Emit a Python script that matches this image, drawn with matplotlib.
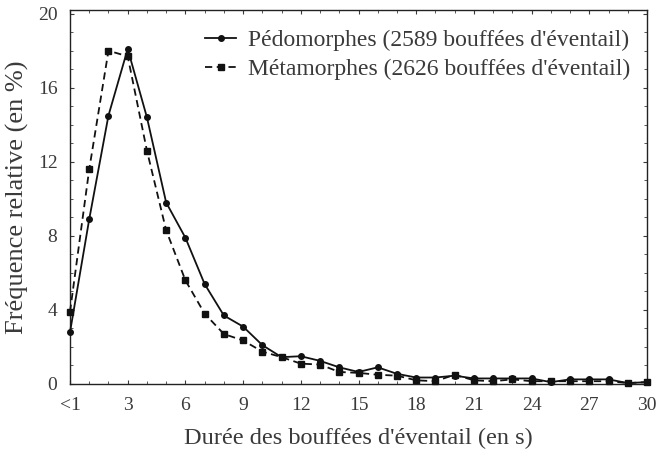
import numpy as np
import matplotlib
matplotlib.use("Agg")
import matplotlib.pyplot as plt
from matplotlib.ticker import MultipleLocator

plt.rcParams['font.family'] = ['Liberation Serif', 'DejaVu Serif']

# durée (s), 0 = "<1"
duree = list(range(31))
pedomorphes = [2.8, 8.9, 14.5, 18.1, 14.4, 9.8, 7.9, 5.4, 3.7, 3.1, 2.1, 1.45, 1.5, 1.25,
               0.9, 0.65, 0.9, 0.55, 0.35, 0.35, 0.45, 0.3, 0.3, 0.3, 0.3, 0.1, 0.25, 0.25,
               0.25, 0.05, 0.1]
metamorphes = [3.9, 11.6, 18.0, 17.7, 12.6, 8.3, 5.6, 3.8, 2.7, 2.35, 1.75, 1.45, 1.1, 1.05,
               0.65, 0.6, 0.5, 0.45, 0.2, 0.15, 0.5, 0.2, 0.15, 0.25, 0.15, 0.15, 0.15, 0.15,
               0.15, 0.05, 0.1]
xticks = [0, 3, 6, 9, 12, 15, 18, 21, 24, 27, 30]
xticklabels = ['<1', '3', '6', '9', '12', '15', '18', '21', '24', '27', '30']
yticks = [0, 4, 8, 12, 16, 20]

grey = '#3a3a3a'

fig = plt.figure(figsize=(6.57, 4.58), dpi=100)
ax = fig.add_axes([70 / 657, 1 - 384 / 458, 577 / 657, 374 / 458])

ax.plot(duree, pedomorphes, '-', color='#111111', lw=1.3, marker='o', ms=4,
        clip_on=False, zorder=3, label="Pédomorphes (2589 bouffées d'éventail)")
ax.plot(duree, metamorphes, '--', color='#111111', lw=1.3, marker='s', ms=4.5,
        dashes=(4, 2.5), clip_on=False, zorder=3,
        label="Métamorphes (2626 bouffées d'éventail)")

ax.set_xlim(0, 30)
ax.set_ylim(0, 20.2)
ax.set_xticks(xticks)
ax.set_xticklabels(xticklabels)
ax.set_yticks(yticks)
ax.xaxis.set_minor_locator(MultipleLocator(1))
ax.yaxis.set_minor_locator(MultipleLocator(1))
ax.tick_params(which='both', direction='in', top=True, right=True, color=grey,
               labelcolor=grey, labelsize=14)
ax.tick_params(which='major', length=3)
ax.tick_params(which='minor', length=2)
ax.tick_params(axis='x', which='major', pad=9)
ax.tick_params(axis='y', which='major', pad=9)
for s in ax.spines.values():
    s.set_color('#222222')
    s.set_linewidth(1.0)

ax.set_xlabel("Durée des bouffées d'éventail (en s)", fontsize=17.5, color=grey, labelpad=10)
ax.set_ylabel("Fréquence relative (en %)", fontsize=19, color=grey, labelpad=6)

leg = ax.legend(loc='upper right', bbox_to_anchor=(0.995, 0.985), frameon=False,
                fontsize=17, handlelength=1.3, handletextpad=0.5, labelspacing=0.3,
                borderaxespad=0.2, labelcolor=grey)

fig.savefig('out.png', dpi=100)
